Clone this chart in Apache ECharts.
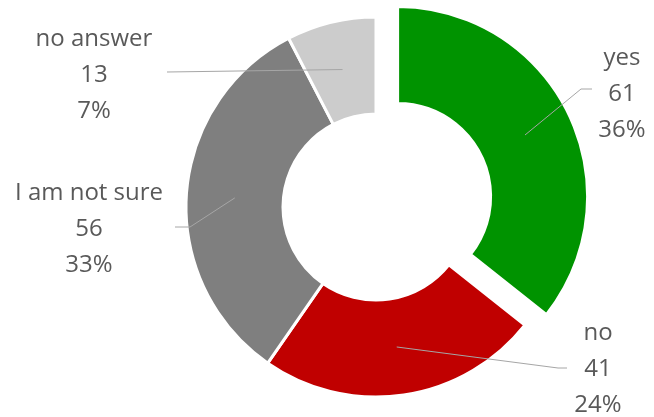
<!DOCTYPE html>
<html><head><meta charset="utf-8">
<script src="https://cdn.jsdelivr.net/npm/echarts@6/dist/echarts.min.js"></script>
<style>html,body{margin:0;padding:0;background:#fff}#c{width:654px;height:417px}</style>
</head><body><div id="c"></div>
<script>
const categories = ['yes', 'no', 'I am not sure', 'no answer'];
const counts = [61, 41, 56, 13];
const percentLabels = ['36%', '24%', '33%', '7%'];

const sliceColors = ['#009300', '#C00000', '#7F7F7F', '#CCCCCC'];
const CX = 376, CY = 207, R0 = 93, R1 = 190, OFF = 24;
// label block centres and leader-line bend/end points (annotation layout)
const labelCfg = [
  { x: 622, y: 94,  bend: [581, 89],  end: [592, 89] },
  { x: 598, y: 369, bend: [558, 368], end: [567, 368] },
  { x: 89,  y: 229, bend: [190, 227], end: [175, 227] },
  { x: 94,  y: 75,  bend: null,       end: [167, 72] }
];

const total = counts.reduce((a, b) => a + b, 0);
const mids = []; let acc = 0;
counts.forEach(v => { mids.push((acc + v / 2) / total * 2 * Math.PI); acc += v; });

const base = {
  type: 'pie',
  center: [CX, CY],
  radius: [R0, R1],
  startAngle: 90,
  clockwise: true,
  avoidLabelOverlap: false,
  emphasis: { disabled: true }
};

const chart = echarts.init(document.getElementById('c'), null, { renderer: 'canvas' });
chart.setOption({
  animation: false,
  backgroundColor: '#fff',
  series: [
    Object.assign({}, base, {
      z: 2,
      selectedMode: 'single',
      selectedOffset: OFF,
      itemStyle: { borderColor: '#fff', borderWidth: 3 },
      data: categories.map((n, i) => ({
        name: n, value: counts[i], selected: i === 0,
        itemStyle: { color: sliceColors[i] }
      })),
      label: { show: false },
      labelLine: { show: false }
    }),
    Object.assign({}, base, {
      z: 5,
      silent: true,
      selectedMode: false,
      itemStyle: { color: 'rgba(0,0,0,0)', borderWidth: 0 },
      data: categories.map((n, i) => ({ name: n, value: counts[i] })),
      label: {
        show: true,
        position: 'outside',
        formatter: p => p.name + '\n' + p.value + '\n' + percentLabels[p.dataIndex],
        fontFamily: 'Open Sans',
        fontSize: 24,
        lineHeight: 36,
        color: '#595959',
        align: 'center'
      },
      labelLine: { show: true, lineStyle: { color: '#A6A6A6', width: 1 } },
      labelLayout: function (p) {
        const i = p.dataIndex, c = labelCfg[i];
        const rm = (R0 + R1) / 2 + (i === 0 ? OFF : 0);
        const s = [CX + rm * Math.sin(mids[i]), CY - rm * Math.cos(mids[i])];
        const pts = c.bend ? [s, c.bend, c.end] : [s, c.end];
        return { x: c.x, y: c.y, align: 'center', verticalAlign: 'middle', labelLinePoints: pts };
      }
    })
  ]
});
</script></body></html>
